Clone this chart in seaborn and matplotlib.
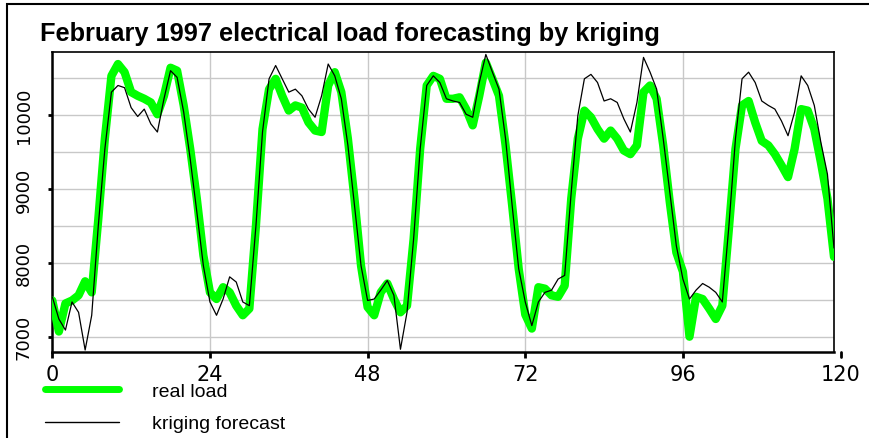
import numpy as np
import pandas as pd
import seaborn as sns
import matplotlib
matplotlib.use("Agg")
import matplotlib.pyplot as plt
from matplotlib.lines import Line2D
from matplotlib.patches import Rectangle

# ---------------- data ----------------
hours = list(range(120))
real_load = [
    7490, 7070, 7450, 7490, 7560, 7750, 7600, 8590, 9680, 10530, 10690, 10580,
    10310, 10260, 10220, 10170, 10010, 10260, 10640, 10600, 10130, 9540, 8870, 8100,
    7600, 7510, 7670, 7600, 7420, 7290, 7380, 8500, 9810, 10350, 10490, 10260,
    10060, 10130, 10100, 9900, 9790, 9770, 10400, 10580, 10310, 9680, 8870, 7960,
    7400, 7290, 7600, 7720, 7510, 7330, 7420, 8320, 9540, 10400, 10530, 10490,
    10220, 10220, 10240, 10080, 9860, 10260, 10710, 10490, 10260, 9590, 8780, 7920,
    7300, 7110, 7670, 7650, 7560, 7540, 7690, 8870, 9680, 10060, 9970, 9810,
    9680, 9790, 9680, 9520, 9470, 9590, 10310, 10400, 10220, 9590, 8820, 8140,
    7880, 7000, 7540, 7510, 7380, 7240, 7420, 8460, 9540, 10130, 10190, 9900,
    9650, 9590, 9470, 9320, 9160, 9540, 10080, 10060, 9810, 9360, 8870, 8080,
]
kriging = [
    7540, 7240, 7090, 7470, 7330, 6820, 7290, 8500, 9540, 10310, 10400, 10370,
    10100, 9980, 10080, 9880, 9770, 10220, 10600, 10510, 10040, 9400, 8690, 7960,
    7470, 7290, 7510, 7810, 7740, 7470, 7420, 8500, 9770, 10490, 10670, 10490,
    10310, 10350, 10260, 10080, 9970, 10260, 10690, 10530, 10220, 9590, 8780, 7960,
    7490, 7510, 7630, 7760, 7560, 6830, 7330, 8320, 9540, 10400, 10530, 10440,
    10220, 10190, 10170, 10010, 9970, 10440, 10820, 10580, 10350, 9680, 8780, 7920,
    7470, 7150, 7470, 7600, 7630, 7780, 7830, 8960, 9990, 10490, 10550, 10440,
    10190, 10220, 10170, 9950, 9770, 10170, 10780, 10580, 10350, 9680, 8960, 8230,
    7780, 7510, 7630, 7720, 7670, 7600, 7470, 8500, 9680, 10490, 10580, 10440,
    10190, 10130, 10080, 9920, 9720, 10040, 10530, 10400, 10130, 9630, 9200, 8200,
]
x_ticks = [0, 24, 48, 72, 96, 120]
y_ticks = [7000, 8000, 9000, 10000]
title = "February 1997 electrical load forecasting by kriging"
series_labels = ["real load", "kriging forecast"]

df = pd.DataFrame({"hour": hours, "real": real_load, "kriging": kriging})

# ---------------- figure ----------------
sns.set_theme(style="white")
plt.rcParams["font.family"] = ["Liberation Sans", "DejaVu Sans"]
plt.rcParams["text.color"] = "black"
plt.rcParams["xtick.color"] = "black"
plt.rcParams["ytick.color"] = "black"
plt.rcParams["xtick.labelcolor"] = "black"
plt.rcParams["ytick.labelcolor"] = "black"

fig = plt.figure(figsize=(8.69, 4.39), dpi=100)
ax = fig.add_axes([52.3 / 869, 1 - 353 / 439, (834 - 52.3) / 869, (353 - 52.7) / 439])

GREEN = "#00ff00"
sns.lineplot(data=df, x="hour", y="real", ax=ax, color=GREEN, linewidth=6.0,
             solid_capstyle="round", solid_joinstyle="round", zorder=3)
sns.lineplot(data=df, x="hour", y="kriging", ax=ax, color="black", linewidth=0.9,
             zorder=4)

ax.set_xlim(0, 119)
ax.set_ylim(6793, 10857)
ax.set_xlabel("")
ax.set_ylabel("")

# grid
ax.set_xticks([t for t in x_ticks if t <= 119])
ax.set_yticks(y_ticks)
ax.set_yticks(np.arange(7000, 10600, 500), minor=True)
ax.grid(True, which="both", axis="y", color="#c8c8c8", linewidth=1.0, zorder=0)
ax.grid(True, which="major", axis="x", color="#c8c8c8", linewidth=1.0, zorder=0)
ax.set_axisbelow(True)

for s in ax.spines.values():
    s.set_color("black")
    s.set_visible(True)
ax.spines["left"].set_linewidth(1.8)
ax.spines["bottom"].set_linewidth(1.8)
ax.spines["top"].set_linewidth(1.2)
ax.spines["right"].set_linewidth(1.2)

ax.tick_params(axis="x", which="major", direction="out", length=4, width=2,
               color="black", labelcolor="black", bottom=True, pad=5, labelsize=15)
ax.tick_params(axis="y", which="major", direction="out", length=3, width=2,
               color="black", labelcolor="black", left=True, pad=11, labelsize=13)
ax.tick_params(axis="y", which="minor", length=0)
for lab in ax.get_yticklabels():
    lab.set_rotation(90)
    lab.set_va("center")
    lab.set_family("DejaVu Sans")
for lab in ax.get_xticklabels():
    lab.set_family("DejaVu Sans")

# the 120 tick sits just past the frame edge
trans = matplotlib.transforms.blended_transform_factory(ax.transData, ax.transAxes)
ax.add_line(Line2D([120, 120], [0, -0.017], transform=trans, color="black",
                   linewidth=2, clip_on=False))
ax.text(120, -0.04, str(x_ticks[-1]), transform=trans, ha="center", va="top",
        fontsize=15, family="DejaVu Sans", color="black", clip_on=False)

# title
fig.text(40 / 869, 1 - 41 / 439, title, ha="left", va="baseline",
         fontsize=18.3, fontweight="bold", color="black",
         family=["Liberation Sans Narrow", "Liberation Sans"])

# legend
handles = [Line2D([], [], color=GREEN, linewidth=5.0),
           Line2D([], [], color="black", linewidth=1.0)]
leg = fig.legend(handles, series_labels, loc="upper left",
                 bbox_to_anchor=(45 / 869, 1 - 383 / 439), frameon=False,
                 fontsize=14, handlelength=3.8, handletextpad=1.7,
                 labelspacing=0.78, borderpad=0, borderaxespad=0)
for t in leg.get_texts():
    t.set_color("black")

# outer border (left and top edges)
fig.add_artist(Rectangle((7 / 869, -0.1), 1.2, 1.1 - 5 / 439,
                         transform=fig.transFigure, fill=False,
                         edgecolor="black", linewidth=1.5))

fig.savefig("out.png", dpi=100)
